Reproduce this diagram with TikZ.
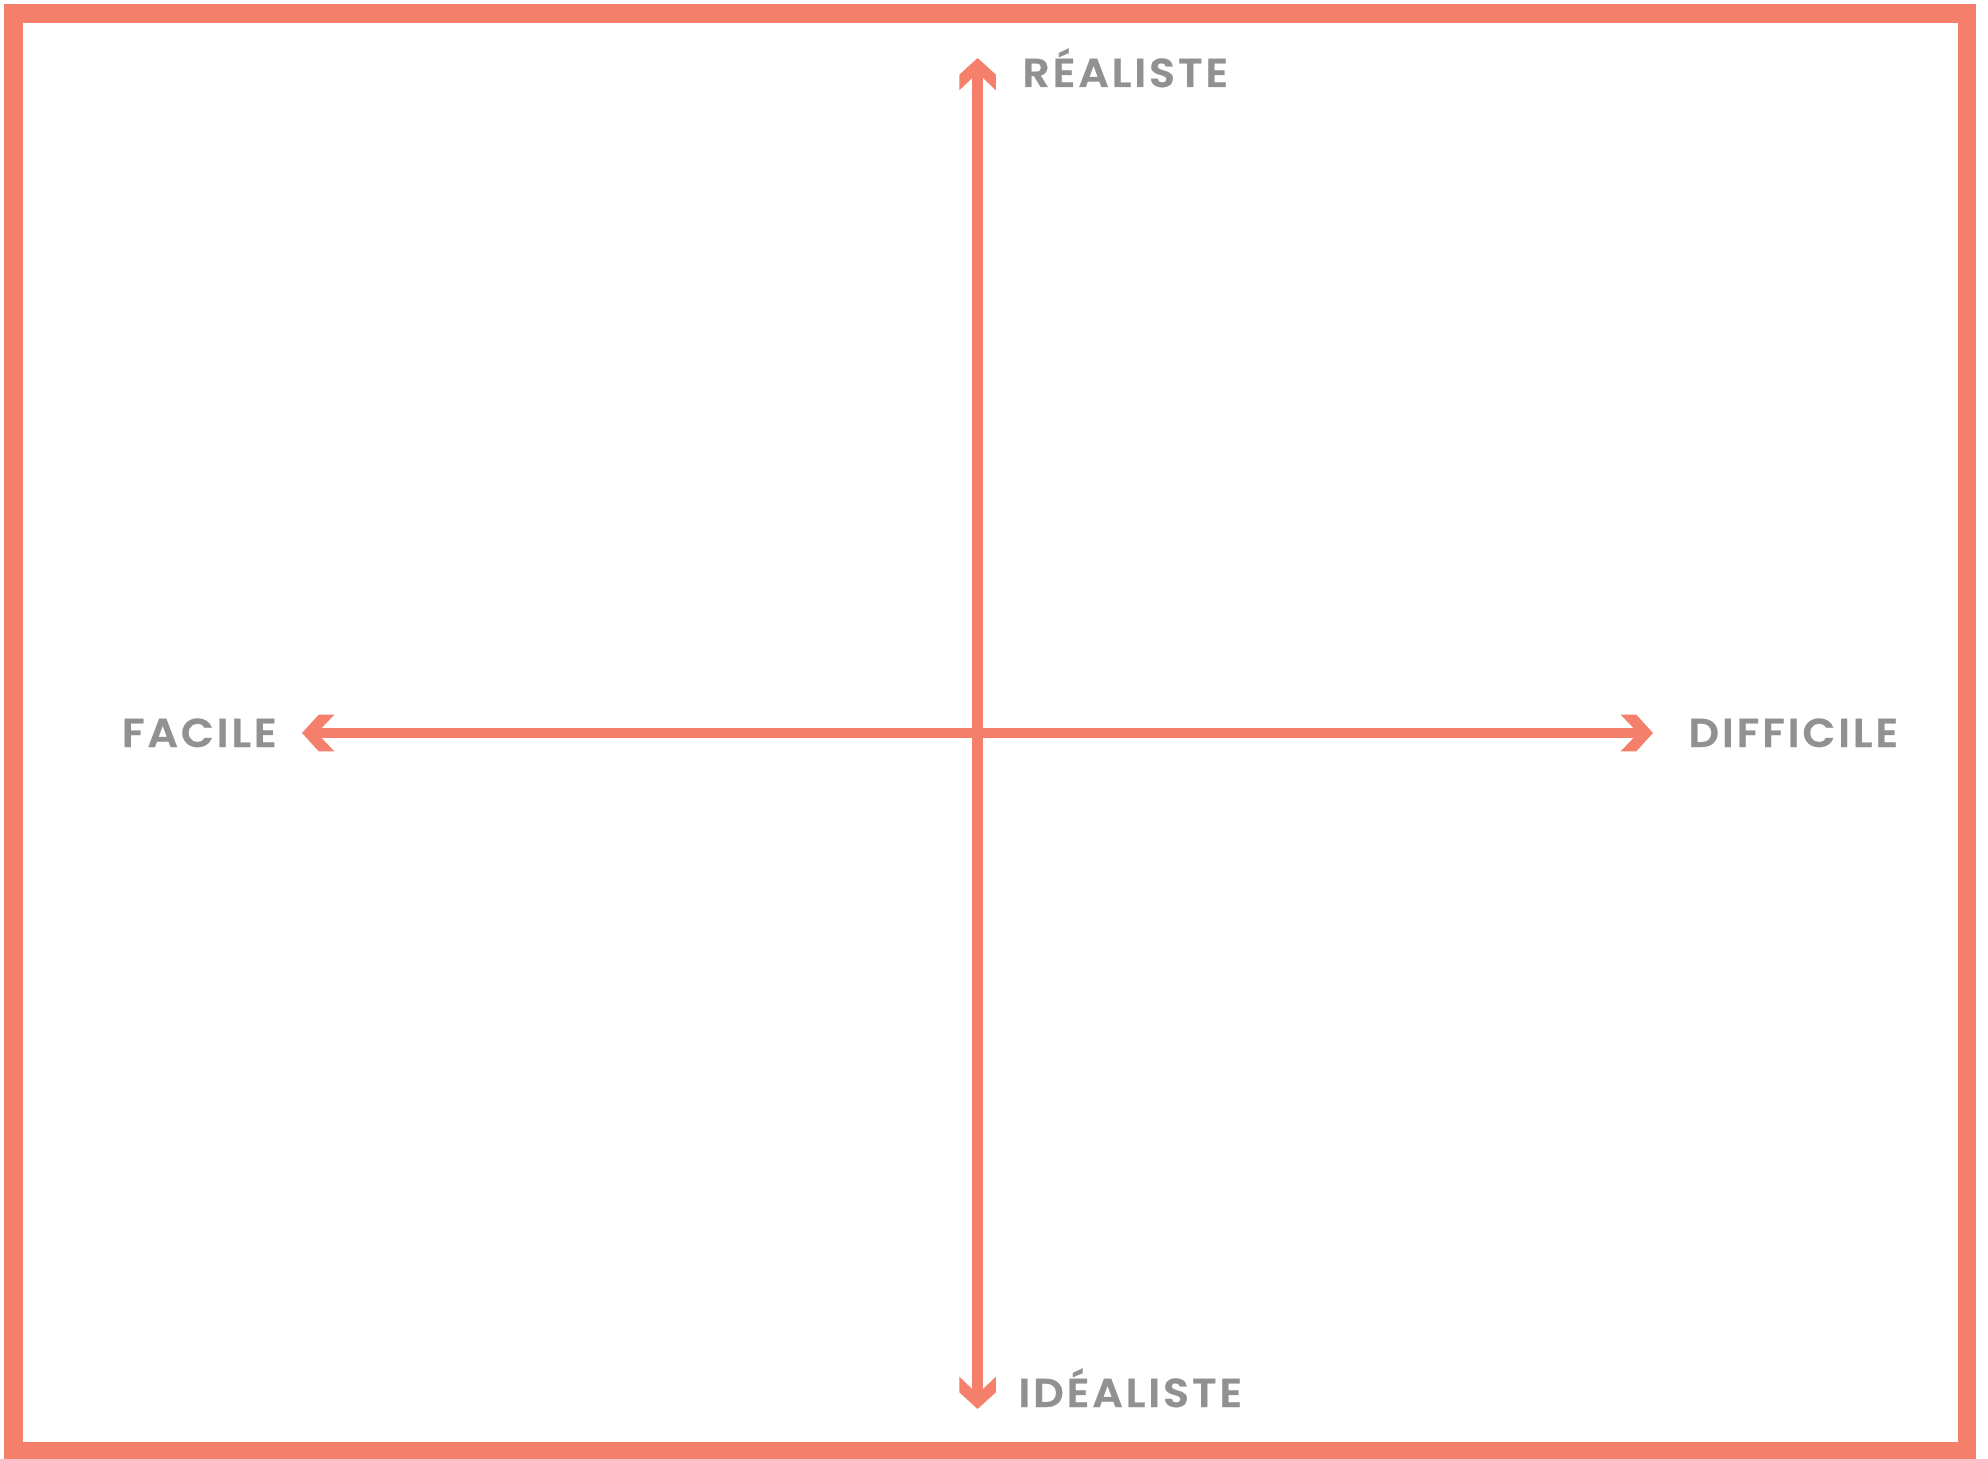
\documentclass[tikz,border=0pt]{standalone}
\usepackage{fontspec}
\usepackage{tikz}
\usetikzlibrary{positioning, arrows.meta, calc}
\newfontfamily\lblfont{Poppins SemiBold}[LetterSpace=7, FakeStretch=1.06, FakeBold=0.6]
\definecolor{coral}{HTML}{F4806C}
\definecolor{labelgray}{HTML}{909193}

% flat-ended chevron head
\pgfdeclarearrow{
  name=Chevron,
  setup code={
    \pgfarrowssettipend{0pt}
    \pgfarrowssetlineend{-10pt}
    \pgfarrowssetbackend{-18.4pt}
    \pgfarrowssetvisualbackend{-11pt}
    \pgfarrowshullpoint{0pt}{0pt}
    \pgfarrowshullpoint{-18.4pt}{10.4pt}
    \pgfarrowshullpoint{-18.4pt}{-10.4pt}
  },
  drawing code={
    \pgfpathmoveto{\pgfpoint{0pt}{0pt}}
    \pgfpathlineto{\pgfpoint{-9.5pt}{10.4pt}}
    \pgfpathlineto{\pgfpoint{-18.4pt}{10.4pt}}
    \pgfpathlineto{\pgfpoint{-11.3pt}{3pt}}
    \pgfpathlineto{\pgfpoint{-11.3pt}{-3pt}}
    \pgfpathlineto{\pgfpoint{-18.4pt}{-10.4pt}}
    \pgfpathlineto{\pgfpoint{-9.5pt}{-10.4pt}}
    \pgfpathclose
    \pgfusepathqfill
  }
}

\begin{document}
\begin{tikzpicture}[x=0.02cm, y=-0.02cm,
      axis/.style={{Chevron}-{Chevron}, line width=6pt, color=coral},
      lbl/.style={inner sep=0pt, color=labelgray, font=\lblfont\fontsize{23}{23}\selectfont}]

    \useasboundingbox (0,0) rectangle (1988,1459);
    \draw[coral, line width=10.5pt] (13.3,13.3) rectangle (1967,1451);

    \coordinate (top) at (977.6,58);
    \coordinate (bottom) at (977.6,1409);
    \coordinate (left) at (302,733);
    \coordinate (right) at (1653,733);

    \draw[axis] (bottom) -- (top);
    \draw[axis] (left) -- (right);

    \node[lbl, anchor=base west] (realiste) at (1022,87) {RÉALISTE};
    \node[lbl, anchor=base west] (idealiste) at (1018,1407) {IDÉALISTE};
    \node[lbl, anchor=base east] (facile) at (277,747) {FACILE};
    \node[lbl, anchor=base west] (difficile) at (1688,747) {DIFFICILE};
  \end{tikzpicture}
\end{document}
